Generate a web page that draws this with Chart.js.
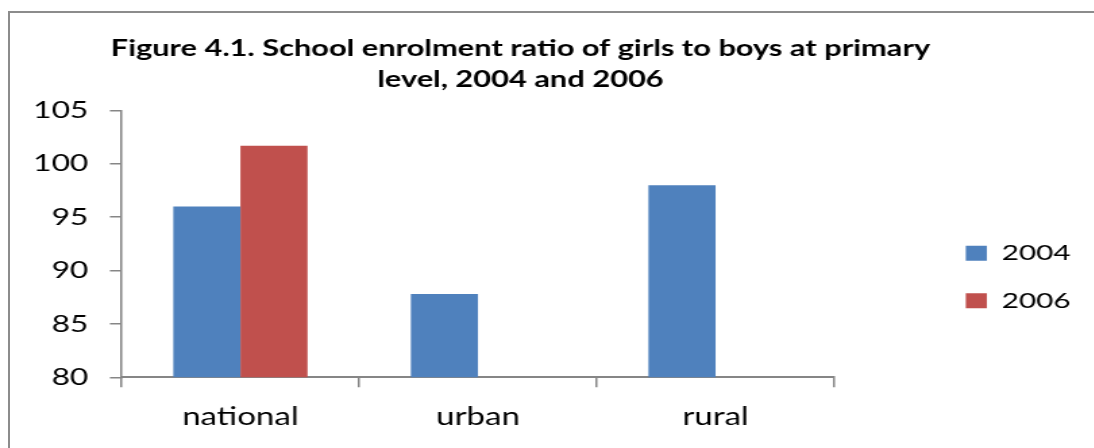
<!DOCTYPE html>
<html>
<head>
<meta charset="utf-8">
<script src="https://cdn.jsdelivr.net/npm/chart.js@4.4.1/dist/chart.umd.min.js"></script>
<style>
  html, body { margin: 0; padding: 0; background: #fff; overflow: hidden; }
  /* cornice grigia del grafico */
  #frame { position: absolute; left: 8px; top: 11px; width: 1200px; height: 600px; border: 2px solid #8c8c8c; box-sizing: border-box; }
  /* canvas stretched horizontally, like the original export */
  #wrap { position: absolute; left: 0; top: 0; width: 810px; height: 448px; transform: scaleX(1.35); transform-origin: 0 0; }
</style>
</head>
<body>
<div id="frame"></div>
<div id="wrap"><canvas id="myChart"></canvas></div>
<script>
// dati
const categories = ['national', 'urban', 'rural'];
const years = ['2004', '2006'];
const values2004 = [96.0, 87.8, 98.0];
const values2006 = [101.7, null, null];
const yTicks = [80, 85, 90, 95, 100, 105];
const titleLines = ['Figure 4.1. School enrolment ratio of girls to boys at primary', 'level, 2004 and 2006'];

const W = 810;          // logical canvas width
const padRight = 7;
const areaRight = 618;  // where the plot area should end
const axisGray = '#868686';

// title a little left of center (sits over plot + legend)
const shiftTitle = {
  id: 'shiftTitle',
  afterLayout: (chart) => {
    chart.titleBlock.left -= 16;
    chart.titleBlock.right -= 16;
  }
};

const ctx = document.getElementById('myChart');

new Chart(ctx, {
  type: 'bar',
  data: {
    labels: categories,
    datasets: [
      { label: years[0], data: values2004, backgroundColor: '#4F81BD' },
      { label: years[1], data: values2006, backgroundColor: '#C0504D' }
    ]
  },
  options: {
    responsive: true,
    maintainAspectRatio: false,
    animation: false,
    layout: { padding: { left: 0, right: padRight, top: 0, bottom: 0 } },
    datasets: { bar: { barPercentage: 1, categoryPercentage: 0.565 } },
    plugins: {
      tooltip: { enabled: false },
      title: {
        display: true,
        text: titleLines,
        color: '#000',
        font: { family: 'Lato', weight: 'bold', size: 22.8, lineHeight: 1.37 },
        padding: { top: 33, bottom: 15 }
      },
      legend: {
        position: 'right',
        // empty title only pushes the items down
        title: { display: true, text: '', font: { size: 10, lineHeight: 1 }, padding: { top: 96, bottom: 0 } },
        labels: {
          boxWidth: 15.6,
          boxHeight: 15,
          padding: 25.5,
          color: '#000',
          font: { family: 'Lato', size: 22 }
        }
      }
    },
    scales: {
      x: {
        grid: { offset: true, drawOnChartArea: false, tickLength: 10, color: axisGray, lineWidth: 1.5 },
        border: { color: axisGray, width: 2 },
        ticks: { color: '#000', padding: 15.5, font: { family: 'Lato', size: 24.5 } },
        afterFit: (s) => { s.height = 70.7; }
      },
      y: {
        min: yTicks[0],
        max: yTicks[yTicks.length - 1],
        afterBuildTicks: (s) => { s.ticks = yTicks.map(v => ({ value: v })); },
        grid: { drawOnChartArea: false, tickLength: 8.7, color: axisGray, lineWidth: 1.5 },
        border: { color: axisGray, width: 1.5 },
        ticks: { color: '#000', padding: 16, font: { family: 'Lato', size: 23.5 } },
        afterFit: (s) => { s.width = 90.1; }
      },
      // asse vuoto, serve solo per lo spazio tra grafico e legenda
      y2: {
        type: 'linear',
        position: 'right',
        grid: { display: false },
        border: { display: false },
        ticks: { display: false },
        afterFit: (s) => { s.width = Math.max(0, W - padRight - s.chart.legend.width - areaRight); }
      }
    }
  },
  plugins: [shiftTitle]
});
</script>
</body>
</html>
